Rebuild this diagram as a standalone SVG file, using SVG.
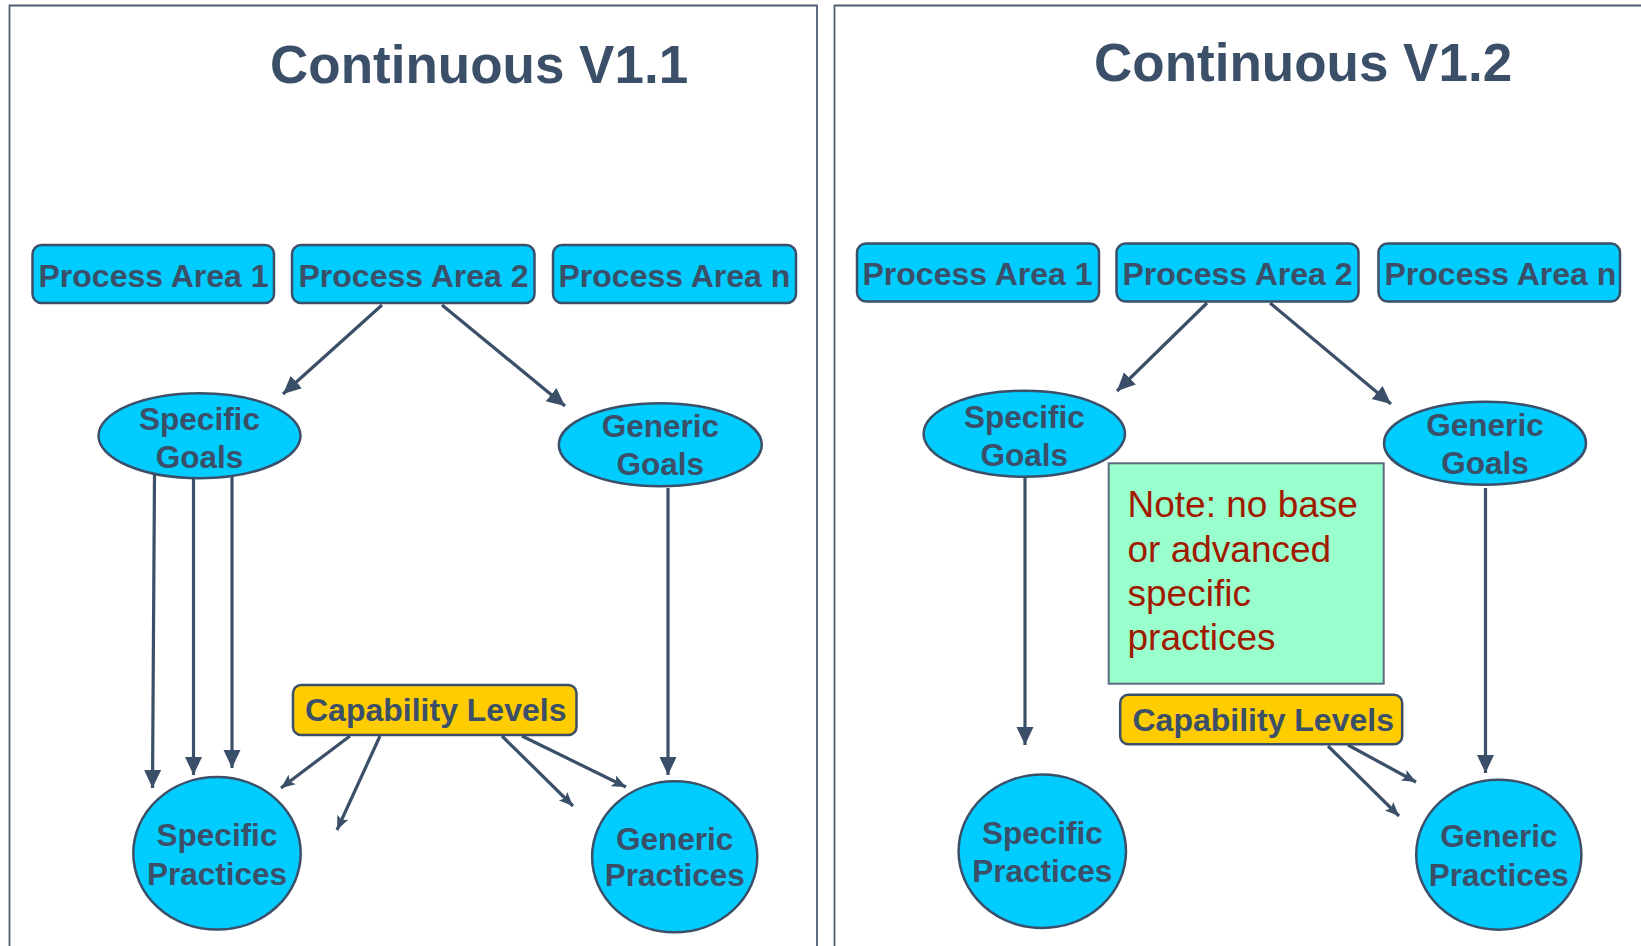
<svg xmlns="http://www.w3.org/2000/svg" width="1641" height="946" viewBox="0 0 1641 946">
<style>
.panel{fill:none;stroke:#4E5E74;stroke-width:1.8}
.title{font-family:"Liberation Sans",Arial,sans-serif;font-weight:bold;font-size:53px;fill:#3B5068}
.pa{fill:#00CCFF;stroke:#3B5068;stroke-width:2.5}
.cap{fill:#FFCC00;stroke:#3B5068;stroke-width:2.5}
.el{fill:#00CCFF;stroke:#3B5068;stroke-width:2.5}
.lbl{font-family:"Liberation Sans",Arial,sans-serif;font-weight:bold;font-size:31.5px;fill:#3B5068;text-anchor:middle}
.boxlbl{font-family:"Liberation Sans",Arial,sans-serif;font-weight:bold;font-size:32px;fill:#3B5068}
.note{fill:#99FFCC;stroke:#5B6B80;stroke-width:2}
.notetxt{font-family:"Liberation Sans",Arial,sans-serif;font-size:37px;fill:#A01A00}
.c{stroke:#3B5068;stroke-width:3.2;fill:none}
.big{marker-end:url(#ah)}
.sm{marker-end:url(#as)}
</style>
<defs>
<marker id="ah" markerUnits="userSpaceOnUse" markerWidth="20" markerHeight="18" refX="18" refY="8.5" orient="auto" viewBox="0 0 20 18">
<path d="M0,0 L18,8.5 L0,17 z" fill="#3B5068"/>
</marker>
<marker id="as" markerUnits="userSpaceOnUse" markerWidth="15" markerHeight="13" refX="14" refY="6" orient="auto" viewBox="0 0 15 13">
<path d="M0,0 L14,6 L0,12 L3,6 z" fill="#3B5068"/>
</marker>
</defs>
<rect width="1641" height="946" fill="#FFFFFF"/>
<g id="panel-left">
<path class="panel" d="M9.5,960 L9.5,5.5 L817,5.5 L817,960"/>
<text class="title" x="270" y="83">Continuous V1.1</text>
</g>
<g id="panel-right">
<path class="panel" d="M834.5,960 L834.5,5.5 L1660,5.5"/>
<text class="title" x="1094" y="81">Continuous V1.2</text>
</g>
<g id="connectors">
<line class="c big" x1="382" y1="305" x2="283" y2="394"/>
<line class="c big" x1="442" y1="305" x2="565" y2="406"/>
<line class="c big" x1="154.5" y1="474" x2="152.5" y2="788"/>
<line class="c big" x1="193.5" y1="477" x2="193.5" y2="775"/>
<line class="c big" x1="232" y1="476" x2="232" y2="768"/>
<line class="c big" x1="668" y1="488" x2="668" y2="775"/>
<line class="c sm" x1="350" y1="736" x2="281" y2="788"/>
<line class="c sm" x1="380" y1="736" x2="337" y2="830"/>
<line class="c sm" x1="502" y1="736" x2="573" y2="806"/>
<line class="c sm" x1="522" y1="736" x2="626" y2="787"/>
<line class="c big" x1="1207" y1="303" x2="1117" y2="391"/>
<line class="c big" x1="1270" y1="303" x2="1391" y2="404"/>
<line class="c big" x1="1025" y1="476" x2="1025" y2="745"/>
<line class="c big" x1="1485.5" y1="488" x2="1485.5" y2="773"/>
<line class="c sm" x1="1328" y1="746" x2="1399" y2="816"/>
<line class="c sm" x1="1348" y1="745" x2="1416" y2="782"/>
</g>
<g id="l-pa1"><rect class="pa" x="32.5" y="245" width="241.5" height="58" rx="9"/><text class="boxlbl" x="38.5" y="287">Process Area 1</text></g>
<g id="l-pa2"><rect class="pa" x="292" y="245" width="242.5" height="58" rx="9"/><text class="boxlbl" x="298.5" y="287">Process Area 2</text></g>
<g id="l-pan"><rect class="pa" x="553" y="245" width="243" height="58" rx="9"/><text class="boxlbl" x="558.5" y="287">Process Area n</text></g>
<g id="l-sg"><ellipse class="el" cx="199.5" cy="435.7" rx="101" ry="42.5"/><text class="lbl" x="199.5" y="430">Specific</text><text class="lbl" x="199.5" y="468">Goals</text></g>
<g id="l-gg"><ellipse class="el" cx="660.3" cy="444.8" rx="101.5" ry="41.5"/><text class="lbl" x="660.3" y="437">Generic</text><text class="lbl" x="660.3" y="475">Goals</text></g>
<g id="l-cap"><rect class="cap" x="293" y="685" width="283.5" height="50" rx="8"/><text class="boxlbl" x="305" y="721">Capability Levels</text></g>
<g id="l-sp"><ellipse class="el" cx="217" cy="853.3" rx="83.7" ry="76.3"/><text class="lbl" x="217" y="846">Specific</text><text class="lbl" x="217" y="885">Practices</text></g>
<g id="l-gp"><ellipse class="el" cx="674.7" cy="856.8" rx="82.6" ry="75.5"/><text class="lbl" x="674.7" y="850">Generic</text><text class="lbl" x="674.7" y="886">Practices</text></g>
<g id="r-pa1"><rect class="pa" x="857" y="243.5" width="242" height="58" rx="9"/><text class="boxlbl" x="862.5" y="285">Process Area 1</text></g>
<g id="r-pa2"><rect class="pa" x="1116.5" y="243.5" width="242" height="58" rx="9"/><text class="boxlbl" x="1122.5" y="285">Process Area 2</text></g>
<g id="r-pan"><rect class="pa" x="1378.5" y="243.5" width="241.5" height="58" rx="9"/><text class="boxlbl" x="1384.5" y="285">Process Area n</text></g>
<g id="r-sg"><ellipse class="el" cx="1024.3" cy="433.8" rx="100.7" ry="43"/><text class="lbl" x="1024.3" y="428">Specific</text><text class="lbl" x="1024.3" y="466">Goals</text></g>
<g id="r-gg"><ellipse class="el" cx="1485" cy="443.2" rx="101" ry="41.5"/><text class="lbl" x="1485" y="436">Generic</text><text class="lbl" x="1485" y="474">Goals</text></g>
<g id="r-note"><rect class="note" x="1108.7" y="463.3" width="275" height="220.4"/><text class="notetxt" x="1127.5" y="517">Note: no base</text><text class="notetxt" x="1127.5" y="562">or advanced</text><text class="notetxt" x="1127.5" y="606">specific</text><text class="notetxt" x="1127.5" y="650">practices</text></g>
<g id="r-cap"><rect class="cap" x="1120.2" y="694.7" width="282" height="49.5" rx="8"/><text class="boxlbl" x="1132.5" y="731">Capability Levels</text></g>
<g id="r-sp"><ellipse class="el" cx="1042.3" cy="851.3" rx="83.7" ry="76.7"/><text class="lbl" x="1042.3" y="844">Specific</text><text class="lbl" x="1042.3" y="882">Practices</text></g>
<g id="r-gp"><ellipse class="el" cx="1498.8" cy="854.7" rx="82.6" ry="75"/><text class="lbl" x="1498.8" y="847">Generic</text><text class="lbl" x="1498.8" y="886">Practices</text></g>
</svg>
